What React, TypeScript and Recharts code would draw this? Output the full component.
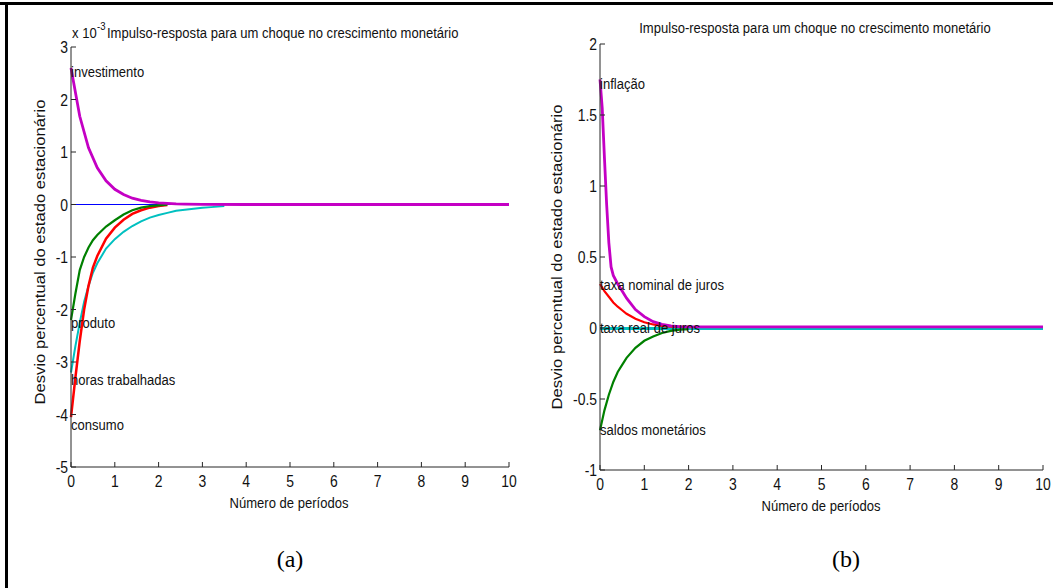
import React from 'react';
import { LineChart, Line, XAxis, YAxis, ReferenceDot } from 'recharts';

// panel (a): values in units of 10^-3
const invX = [0, 0.2, 0.4, 0.6, 0.8, 1.0, 1.2, 1.4, 1.6, 1.8, 2.0, 2.2, 2.4, 2.6, 3.0, 4.0, 10];
const invY = [2.6, 1.68, 1.08, 0.7, 0.45, 0.29, 0.19, 0.12, 0.08, 0.05, 0.03, 0.02, 0.01, 0.006, 0.003, 0, 0];

const prodX = [0, 0.1, 0.2, 0.3, 0.4, 0.5, 0.6, 0.8, 1.0, 1.2, 1.4, 1.6, 1.8, 2.0, 2.2];
const prodY = [-2.2, -1.7, -1.25, -1.0, -0.82, -0.68, -0.58, -0.42, -0.3, -0.19, -0.11, -0.06, -0.03, -0.015, -0.005];

const consX = [0, 0.1, 0.2, 0.3, 0.4, 0.5, 0.6, 0.8, 1.0, 1.2, 1.4, 1.6, 1.8, 2.0, 2.2];
const consY = [-4.05, -3.3, -2.6, -2.0, -1.55, -1.2, -0.98, -0.65, -0.44, -0.29, -0.18, -0.11, -0.06, -0.03, -0.01];

const horasX = [0, 0.1, 0.2, 0.3, 0.4, 0.5, 0.6, 0.8, 1.0, 1.2, 1.4, 1.6, 1.8, 2.0, 2.2, 2.4, 2.6, 2.8, 3.0, 3.2, 3.5];
const horasY = [-3.2, -2.7, -2.25, -1.85, -1.55, -1.3, -1.12, -0.84, -0.66, -0.52, -0.41, -0.32, -0.25, -0.2, -0.16, -0.12, -0.1, -0.08, -0.06, -0.05, -0.03];

const zeroX = [0, 10];
const zeroY = [0, 0];

// panel (b)
const inflX = [0, 0.05, 0.1, 0.15, 0.2, 0.25, 0.3, 0.4, 0.5, 0.6, 0.8, 1.0, 1.2, 1.4, 1.6, 1.8, 2.0, 10];
const inflY = [1.75, 1.55, 1.2, 0.87, 0.6, 0.43, 0.37, 0.31, 0.26, 0.21, 0.13, 0.08, 0.045, 0.025, 0.015, 0.01, 0.008, 0.008];

const nomX = [0, 0.1, 0.2, 0.3, 0.4, 0.5, 0.6, 0.8, 1.0, 1.2, 1.4, 1.6, 1.8, 2.0];
const nomY = [0.31, 0.26, 0.22, 0.18, 0.15, 0.125, 0.1, 0.065, 0.04, 0.025, 0.015, 0.01, 0.008, 0.008];

const realX = [0, 10];
const realY = [-0.004, -0.004];

const saldX = [0, 0.1, 0.2, 0.3, 0.4, 0.5, 0.6, 0.8, 1.0, 1.2, 1.4, 1.6, 1.8, 2.0];
const saldY = [-0.72, -0.58, -0.47, -0.38, -0.31, -0.26, -0.21, -0.14, -0.09, -0.06, -0.035, -0.02, -0.012, -0.008];

const xTicks = [0, 1, 2, 3, 4, 5, 6, 7, 8, 9, 10];
const yTicksA = [-5, -4, -3, -2, -1, 0, 1, 2, 3];
const yTicksB = [-1, -0.5, 0, 0.5, 1, 1.5, 2];

const labelsA = [
  { text: 'investimento', y: 2.52 },
  { text: 'produto', y: -2.25 },
  { text: 'horas trabalhadas', y: -3.35 },
  { text: 'consumo', y: -4.2 },
];
const labelsB = [
  { text: 'inflação', y: 1.72 },
  { text: 'taxa nominal de juros', y: 0.3 },
  { text: 'taxa real de juros', y: 0 },
  { text: 'saldos monetários', y: -0.72 },
];

const TITLE = 'Impulso-resposta para um choque no crescimento monetário';
const YLABEL = 'Desvio percentual do estado estacionário';
const XLABEL = 'Número de períodos';

const FONT = '"Liberation Sans", Arial, sans-serif';
const SX = 0.87; // matlab's text looks condensed
const AXIS = '#262626';
const TXT = '#111';

const MAGENTA = '#c400c4';
const RED = '#ff0000';
const GREEN = '#008000';
const CYAN = '#00c0c0';
const BLUE = '#0000ff';

const toRows = (xs: number[], ys: number[]) => xs.map((x, i) => ({ x, y: ys[i] }));

const NText = (props: { x: number; y: number; anchor?: 'start' | 'middle' | 'end'; size?: number; children: any }) => {
  const { x, y, anchor = 'start', size = 15, children } = props;
  return (
    <text
      transform={`translate(${x} ${y}) scale(${SX} 1)`}
      textAnchor={anchor}
      fontSize={size}
      fontFamily={FONT}
      fill={TXT}
    >
      {children}
    </text>
  );
};

const BottomTick = (props: any) => {
  const { x, y, payload } = props;
  return (
    <g>
      <line x1={x} x2={x} y1={y} y2={y - 5} stroke={AXIS} />
      <NText x={x} y={y + 20} anchor="middle" size={16}>{payload.value}</NText>
    </g>
  );
};

const TopTick = (props: any) => {
  const { x, y } = props;
  return <line x1={x} x2={x} y1={y} y2={y + 5} stroke={AXIS} />;
};

const LeftTick = (props: any) => {
  const { x, y, payload } = props;
  return (
    <g>
      <line x1={x} x2={x + 5} y1={y} y2={y} stroke={AXIS} />
      <NText x={x - 3} y={y + 6} anchor="end" size={16}>{payload.value}</NText>
    </g>
  );
};

const RightTick = (props: any) => {
  const { x, y } = props;
  return <line x1={x} x2={x - 5} y1={y} y2={y} stroke={AXIS} />;
};

function Panel(props: {
  left: number;
  width: number;
  margin: { top: number; right: number; bottom: number; left: number };
  yTicks: number[];
  yDomain: [number, number];
  series: { data: { x: number; y: number }[]; color: string; w: number }[];
  labels: { text: string; y: number }[];
}) {
  const { left, width, margin, yTicks, yDomain, series, labels } = props;
  return (
    <div style={{ position: 'absolute', left, top: 0 }}>
      <LineChart width={width} height={560} margin={margin}>
        <XAxis
          xAxisId="b"
          type="number"
          dataKey="x"
          domain={[0, 10]}
          ticks={xTicks}
          height={40}
          tickSize={0}
          tickMargin={0}
          tickLine={false}
          axisLine={{ stroke: AXIS }}
          tick={<BottomTick />}
          interval={0}
        />
        <XAxis
          xAxisId="t"
          orientation="top"
          type="number"
          dataKey="x"
          domain={[0, 10]}
          ticks={xTicks.slice(1, -1)}
          height={0}
          tickSize={0}
          tickMargin={0}
          tickLine={false}
          axisLine={{ stroke: AXIS }}
          tick={<TopTick />}
          interval={0}
        />
        <YAxis
          yAxisId="l"
          type="number"
          domain={yDomain}
          ticks={yTicks}
          width={40}
          tickSize={0}
          tickMargin={0}
          tickLine={false}
          axisLine={{ stroke: AXIS }}
          tick={<LeftTick />}
          interval={0}
        />
        <YAxis
          yAxisId="r"
          orientation="right"
          type="number"
          domain={yDomain}
          ticks={yTicks.slice(1, -1)}
          width={0}
          tickSize={0}
          tickMargin={0}
          tickLine={false}
          axisLine={{ stroke: AXIS }}
          tick={<RightTick />}
          interval={0}
        />
        {series.map((s, i) => (
          <Line
            key={i}
            xAxisId="b"
            yAxisId="l"
            data={s.data}
            dataKey="y"
            type="linear"
            stroke={s.color}
            strokeWidth={s.w}
            dot={false}
            activeDot={false}
            isAnimationActive={false}
          />
        ))}
        {labels.map((l) => (
          <ReferenceDot
            key={l.text}
            xAxisId="b"
            yAxisId="l"
            x={0}
            y={l.y}
            r={0}
            stroke="none"
            ifOverflow="visible"
            label={(p: any) => (
              <NText x={p.viewBox.x} y={p.viewBox.y + 5}>{l.text}</NText>
            )}
          />
        ))}
      </LineChart>
    </div>
  );
}

export default function App() {
  const seriesA = [
    { data: toRows(zeroX, zeroY), color: BLUE, w: 1.2 },
    { data: toRows(horasX, horasY), color: CYAN, w: 2 },
    { data: toRows(consX, consY), color: RED, w: 2.5 },
    { data: toRows(prodX, prodY), color: GREEN, w: 2.2 },
    { data: toRows(invX, invY), color: MAGENTA, w: 2.8 },
  ];
  const seriesB = [
    { data: toRows(realX, realY), color: CYAN, w: 3 },
    { data: toRows(saldX, saldY), color: GREEN, w: 2.2 },
    { data: toRows(nomX, nomY), color: RED, w: 2.2 },
    { data: toRows(inflX, inflY), color: MAGENTA, w: 2.8 },
  ];

  return (
    <div style={{ position: 'absolute', left: 0, top: 0, width: 1053, height: 588, background: '#fff', overflow: 'hidden' }}>
      <div style={{ position: 'absolute', left: 0, top: 2, width: 1053, height: 3, background: '#000' }} />
      <div style={{ position: 'absolute', left: 5, top: 2, width: 3, height: 586, background: '#000' }} />
      <Panel
        left={0}
        width={540}
        margin={{ top: 47, right: 31, bottom: 53, left: 31 }}
        yTicks={yTicksA}
        yDomain={[-5, 3]}
        series={seriesA}
        labels={labelsA}
      />
      <Panel
        left={540}
        width={513}
        margin={{ top: 44, right: 10, bottom: 50, left: 20 }}
        yTicks={yTicksB}
        yDomain={[-1, 2]}
        series={seriesB}
        labels={labelsB}
      />
      <svg width={1053} height={588} style={{ position: 'absolute', left: 0, top: 0, pointerEvents: 'none' }}>
        <NText x={72} y={38}>x 10</NText>
        <NText x={97} y={30} size={11}>-3</NText>
        <NText x={107} y={38}>{TITLE}</NText>
        <NText x={289} y={508} anchor="middle">{XLABEL}</NText>
        <text
          transform="translate(45 252) rotate(-90)"
          textAnchor="middle"
          fontSize={15}
          fontFamily={FONT}
          fill={TXT}
          textLength={305}
          lengthAdjust="spacingAndGlyphs"
        >
          {YLABEL}
        </text>
        <NText x={815} y={33} anchor="middle">{TITLE}</NText>
        <NText x={821} y={511} anchor="middle">{XLABEL}</NText>
        <text
          transform="translate(562 257) rotate(-90)"
          textAnchor="middle"
          fontSize={15}
          fontFamily={FONT}
          fill={TXT}
          textLength={305}
          lengthAdjust="spacingAndGlyphs"
        >
          {YLABEL}
        </text>
        <g fontFamily='"Liberation Serif", "Times New Roman", serif' fill="#000" fontSize={24} textAnchor="middle">
          <text x={290} y={567}>(a)</text>
          <text x={846} y={567}>(b)</text>
        </g>
      </svg>
    </div>
  );
}
